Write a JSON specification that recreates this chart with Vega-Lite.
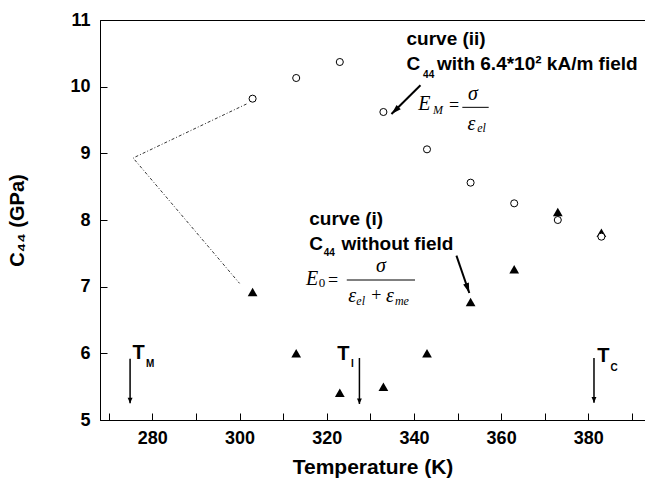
{
  "$schema": "https://vega.github.io/schema/vega-lite/v6.json",
  "width": 545,
  "height": 400,
  "autosize": {"type": "none"},
  "padding": {"left": 100, "top": 20, "right": 0, "bottom": 58},
  "background": "white",
  "config": {
    "view": {"stroke": "black", "strokeWidth": 1},
    "axis": {
      "labelFont": "Liberation Sans", "labelFontWeight": "bold", "labelColor": "black", "labelFontSize": 18,
      "titleFont": "Liberation Sans", "titleFontWeight": "bold", "titleColor": "black",
      "domainColor": "black", "tickColor": "black", "grid": false, "tickSize": -7,
      "labelFlush": false, "labelOverlap": false
    }
  },
  "datasets": {
    "circ": [
      {"x": 303, "y": 9.82}, {"x": 313, "y": 10.13}, {"x": 323, "y": 10.37},
      {"x": 333, "y": 9.62}, {"x": 343, "y": 9.06}, {"x": 353, "y": 8.56},
      {"x": 363, "y": 8.25}, {"x": 373, "y": 8.0}, {"x": 383, "y": 7.75}
    ],
    "tri": [
      {"x": 303, "y": 6.92}, {"x": 313, "y": 6.0}, {"x": 323, "y": 5.41},
      {"x": 333, "y": 5.5}, {"x": 343, "y": 6.0}, {"x": 353, "y": 6.77},
      {"x": 363, "y": 7.26}, {"x": 373, "y": 8.12}, {"x": 383, "y": 7.81}
    ],
    "guide": [
      {"x": 301.6, "y": 9.74, "o": 1}, {"x": 275.6, "y": 8.93, "o": 2}, {"x": 300.0, "y": 7.05, "o": 3}
    ],
    "tarrows": [
      {"x": 274.9, "y": 5.92, "x2": 274.9, "y2": 5.25},
      {"x": 327.5, "y": 5.93, "x2": 327.5, "y2": 5.24},
      {"x": 381.3, "y": 5.93, "x2": 381.3, "y2": 5.26}
    ],
    "carrows": [
      {"id": "ii", "x": 341.5, "y": 10.02, "x2": 334.85, "y2": 9.59},
      {"id": "i", "x": 349.75, "y": 7.465, "x2": 352.7, "y2": 6.905}
    ],
    "boldtext": [
      {"label": "curve (ii)", "x": 338.3, "y": 10.63},
      {"label": "C", "x": 338.3, "y": 10.25},
      {"label": "with 6.4*10² kA/m field", "x": 345.3, "y": 10.25},
      {"label": "curve (i)", "x": 316.0, "y": 7.93},
      {"label": "C", "x": 316.0, "y": 7.55},
      {"label": "without field", "x": 323.4, "y": 7.55}
    ],
    "subs44": [
      {"label": "44", "x": 342.1, "y": 10.13},
      {"label": "44", "x": 319.3, "y": 7.46}
    ],
    "tlabels": [
      {"label": "T", "x": 275.45, "y": 5.915},
      {"label": "T", "x": 322.4, "y": 5.905},
      {"label": "T", "x": 382.05, "y": 5.865}
    ],
    "tsubs": [
      {"label": "M", "x": 278.55, "y": 5.79},
      {"label": "I", "x": 325.55, "y": 5.79},
      {"label": "C", "x": 385.1, "y": 5.74}
    ],
    "mathit": [
      {"label": "E", "x": 341.0, "y": 9.65},
      {"label": "σ", "x": 352.4, "y": 9.8},
      {"label": "ε", "x": 352.3, "y": 9.35},
      {"label": "E", "x": 315.25, "y": 7.02},
      {"label": "σ", "x": 331.3, "y": 7.22},
      {"label": "ε", "x": 324.95, "y": 6.77},
      {"label": "ε", "x": 333.6, "y": 6.77}
    ],
    "mathrm": [
      {"label": "=", "x": 348.05, "y": 9.63},
      {"label": "=", "x": 320.3, "y": 7.01},
      {"label": "+", "x": 330.2, "y": 6.78}
    ],
    "mathsub": [
      {"label": "M", "x": 344.4, "y": 9.59},
      {"label": "el", "x": 354.5, "y": 9.32},
      {"label": "el", "x": 326.8, "y": 6.725},
      {"label": "me", "x": 335.65, "y": 6.725}
    ],
    "mathsub0": [
      {"label": "0", "x": 318.2, "y": 6.99}
    ],
    "bars": [
      {"x": 351.1, "x2": 357.15, "y": 9.69},
      {"x": 324.6, "x2": 340.25, "y": 7.1}
    ]
  },
  "encoding": {
    "x": {
      "field": "x", "type": "quantitative",
      "scale": {"domain": [268, 393], "nice": false, "zero": false},
      "axis": {
        "values": [270, 280, 290, 300, 310, 320, 330, 340, 350, 360, 370, 380, 390],
        "labelExpr": "datum.value % 20 == 0 ? datum.label : ''",
        "format": "d",
        "labelPadding": 16,
        "title": "Temperature (K)", "titleFontSize": 21, "titlePadding": 9
      }
    },
    "y": {
      "field": "y", "type": "quantitative",
      "scale": {"domain": [5, 11], "nice": false, "zero": false},
      "axis": {
        "values": [5, 5.5, 6, 6.5, 7, 7.5, 8, 8.5, 9, 9.5, 10, 10.5, 11],
        "labelExpr": "datum.value % 1 == 0 ? datum.label : ''",
        "format": "d",
        "labelPadding": 17,
        "title": "C₄₄ (GPa)", "titleFontSize": 20, "titlePadding": 42
      }
    }
  },
  "layer": [
    {
      "data": {"name": "guide"},
      "mark": {"type": "line", "color": "#333333", "strokeWidth": 1, "strokeDash": [3, 2, 1, 2]},
      "encoding": {"order": {"field": "o", "type": "quantitative"}}
    },
    {
      "data": {"name": "tri"},
      "mark": {"type": "point", "shape": "triangle-up", "filled": true, "color": "black", "size": 95, "opacity": 1}
    },
    {
      "data": {"name": "circ"},
      "mark": {"type": "point", "shape": "circle", "filled": true, "fill": "white", "stroke": "black", "strokeWidth": 1, "size": 50, "opacity": 1}
    },
    {
      "data": {"name": "tarrows"},
      "mark": {"type": "rule", "color": "black", "strokeWidth": 1.5},
      "encoding": {"x2": {"field": "x2"}, "y2": {"field": "y2"}}
    },
    {
      "data": {"name": "tarrows"},
      "mark": {"type": "point", "shape": "M0,0 L-0.7,-1.6 L0.7,-1.6 Z", "filled": true, "color": "black", "size": 49, "opacity": 1, "angle": 0},
      "encoding": {"x": {"field": "x2", "type": "quantitative"}, "y": {"field": "y2", "type": "quantitative"}}
    },
    {
      "data": {"name": "carrows"},
      "mark": {"type": "rule", "color": "black", "strokeWidth": 2},
      "encoding": {"x2": {"field": "x2"}, "y2": {"field": "y2"}}
    },
    {
      "data": {"name": "carrows"},
      "transform": [{"filter": "datum.id == 'ii'"}],
      "mark": {"type": "point", "shape": "M0,0 L-0.6,-2 L0.6,-2 Z", "filled": true, "color": "black", "size": 100, "opacity": 1, "angle": 46},
      "encoding": {"x": {"field": "x2", "type": "quantitative"}, "y": {"field": "y2", "type": "quantitative"}}
    },
    {
      "data": {"name": "carrows"},
      "transform": [{"filter": "datum.id == 'i'"}],
      "mark": {"type": "point", "shape": "M0,0 L-0.6,-2 L0.6,-2 Z", "filled": true, "color": "black", "size": 100, "opacity": 1, "angle": -19},
      "encoding": {"x": {"field": "x2", "type": "quantitative"}, "y": {"field": "y2", "type": "quantitative"}}
    },
    {
      "data": {"name": "bars"},
      "mark": {"type": "rule", "color": "black", "strokeWidth": 1},
      "encoding": {"x2": {"field": "x2"}}
    },
    {
      "data": {"name": "boldtext"},
      "mark": {"type": "text", "align": "left", "baseline": "alphabetic", "font": "Liberation Sans", "fontWeight": "bold", "fontSize": 19, "color": "black"},
      "encoding": {"text": {"field": "label"}}
    },
    {
      "data": {"name": "subs44"},
      "mark": {"type": "text", "align": "left", "baseline": "alphabetic", "font": "Liberation Sans", "fontWeight": "bold", "fontSize": 10, "color": "black"},
      "encoding": {"text": {"field": "label"}}
    },
    {
      "data": {"name": "tlabels"},
      "mark": {"type": "text", "align": "left", "baseline": "alphabetic", "font": "Liberation Sans", "fontWeight": "bold", "fontSize": 20, "color": "black"},
      "encoding": {"text": {"field": "label"}}
    },
    {
      "data": {"name": "tsubs"},
      "mark": {"type": "text", "align": "left", "baseline": "alphabetic", "font": "Liberation Sans", "fontWeight": "bold", "fontSize": 10, "color": "black"},
      "encoding": {"text": {"field": "label"}}
    },
    {
      "data": {"name": "mathit"},
      "mark": {"type": "text", "align": "left", "baseline": "alphabetic", "font": "Liberation Serif", "fontStyle": "italic", "fontSize": 20, "color": "black"},
      "encoding": {"text": {"field": "label"}}
    },
    {
      "data": {"name": "mathrm"},
      "mark": {"type": "text", "align": "left", "baseline": "alphabetic", "font": "Liberation Serif", "fontSize": 18, "color": "black"},
      "encoding": {"text": {"field": "label"}}
    },
    {
      "data": {"name": "mathsub"},
      "mark": {"type": "text", "align": "left", "baseline": "alphabetic", "font": "Liberation Serif", "fontStyle": "italic", "fontSize": 12, "color": "black"},
      "encoding": {"text": {"field": "label"}}
    },
    {
      "data": {"name": "mathsub0"},
      "mark": {"type": "text", "align": "left", "baseline": "alphabetic", "font": "Liberation Serif", "fontSize": 13, "color": "black"},
      "encoding": {"text": {"field": "label"}}
    }
  ]
}
